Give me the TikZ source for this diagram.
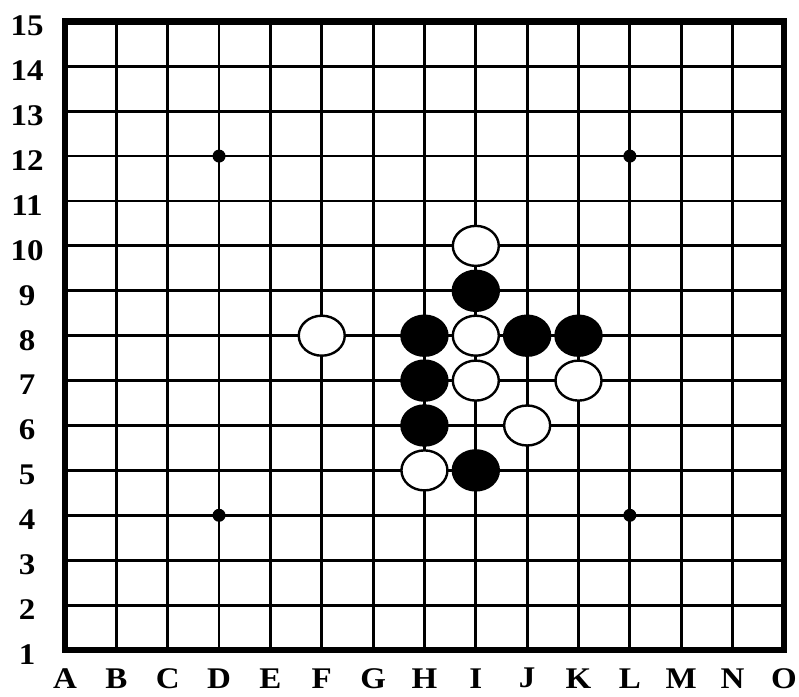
\documentclass[tikz,border=0pt]{standalone}
\usepackage{fontspec}
\setmainfont{Liberation Serif}
\usetikzlibrary{shapes.geometric}

\begin{document}
\begin{tikzpicture}[
  gridline/.style={line width=2.8pt},
  border/.style={line width=6.5pt},
  coord/.style={
    font=\fontsize{30}{30}\selectfont\bfseries,
    inner sep=0pt,
    xscale=1.1,
    transform shape
  },
  hoshi/.style={circle, fill=black, inner sep=0pt, minimum size=13pt},
  stone/.style={ellipse, draw, line width=2.4pt, inner sep=0pt,
    minimum width=46pt, minimum height=40pt},
  blackstone/.style={stone, fill=black},
  whitestone/.style={stone, fill=white}
]
\useasboundingbox (0pt,0pt) rectangle (799pt,696pt);
\begin{scope}[shift={(65pt,46pt)}, x=51.35pt, y=44.9pt]
% board lines
\foreach \i in {1,...,13} {
  \draw[gridline] (\i,0) -- (\i,14);
  \draw[gridline] (0,\i) -- (14,\i);
}
\draw[border] (0,0) rectangle (14,14);
% star points
\node[hoshi] (hoshi-D12) at (3,11) {};
\node[hoshi] (hoshi-L12) at (11,11) {};
\node[hoshi] (hoshi-D4) at (3,3) {};
\node[hoshi] (hoshi-L4) at (11,3) {};
% coordinates
\foreach \l [count=\i from 0] in {A,...,O}
  \node[coord] (col-\l) at (\i,-0.63) {\l};
\foreach \r in {1,...,15}
  \node[coord] (row-\r) at (-0.74,\r-1.1) {\r};
% black stones
\node[blackstone] (b-I9) at (8,8) {};
\node[blackstone] (b-H8) at (7,7) {};
\node[blackstone] (b-J8) at (9,7) {};
\node[blackstone] (b-K8) at (10,7) {};
\node[blackstone] (b-H7) at (7,6) {};
\node[blackstone] (b-H6) at (7,5) {};
\node[blackstone] (b-I5) at (8,4) {};
% white stones
\node[whitestone] (w-I10) at (8,9) {};
\node[whitestone] (w-F8) at (5,7) {};
\node[whitestone] (w-I8) at (8,7) {};
\node[whitestone] (w-I7) at (8,6) {};
\node[whitestone] (w-K7) at (10,6) {};
\node[whitestone] (w-J6) at (9,5) {};
\node[whitestone] (w-H5) at (7,4) {};
\end{scope}
\end{tikzpicture}
\end{document}
